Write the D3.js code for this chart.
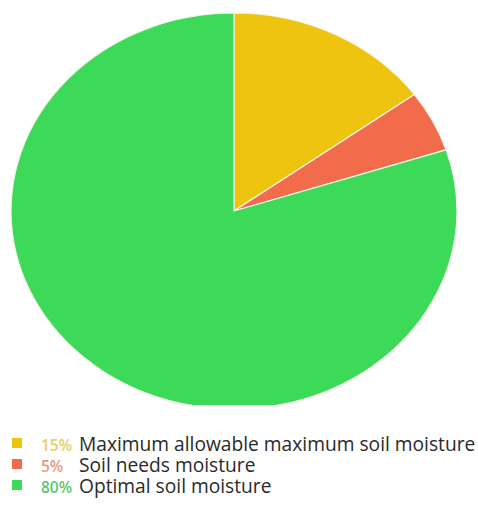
<!DOCTYPE html>
<html><head><meta charset="utf-8">
<script src="https://cdn.jsdelivr.net/npm/d3@7"></script>
<style>body{margin:0;background:#fff}svg{display:block}</style>
</head><body>
<svg id="c" width="478" height="509"></svg>
<script>
const categories = ["Maximum allowable maximum soil moisture", "Soil needs moisture", "Optimal soil moisture"];
const values = [15, 5, 80];
const colors = ["#EFC40F", "#F26B4B", "#3DD958"];
const pctColors = ["#E6D061", "#E49A82", "#5FC56F"];

const svg = d3.select("#c");
const W = 478;
const cx = 234, cy = 211, rx = 223, ry = 198;

svg.append("defs").append("clipPath").attr("id", "clip")
  .append("rect").attr("x", 0).attr("y", 0).attr("width", W).attr("height", 405);

const pie = d3.pie().sort(null).value(d => d)(values);
const arc = d3.arc().innerRadius(0).outerRadius(1);

const g = svg.append("g").attr("clip-path", "url(#clip)")
  .append("g").attr("transform", `translate(${cx},${cy}) scale(${rx},${ry})`);
g.selectAll("path").data(pie).join("path")
  .attr("d", arc)
  .attr("fill", (d, i) => colors[i])
  .attr("stroke", "#f4f4e8")
  .attr("stroke-width", 1.2)
  .attr("vector-effect", "non-scaling-stroke");

const leg = svg.append("g");
const rowY = d3.scalePoint().domain(categories).range([451, 493]);
const rows = leg.selectAll("g").data(categories).join("g")
  .attr("transform", d => `translate(0,${rowY(d)})`);
rows.append("rect").attr("x", 12).attr("y", -13).attr("width", 10).attr("height", 10)
  .attr("fill", (d, i) => colors[i]);
rows.append("text").attr("x", 41).attr("y", 0)
  .attr("font-family", "Open Sans, sans-serif").attr("font-size", 15.5).attr("font-weight", 600)
  .attr("fill", (d, i) => pctColors[i])
  .text((d, i) => values[i] + "%");
rows.append("text").attr("x", 79).attr("y", 0)
  .attr("font-family", "Open Sans, sans-serif").attr("font-size", 19.2)
  .attr("fill", "#2a2a2a")
  .text(d => d);
</script>
</body></html>
